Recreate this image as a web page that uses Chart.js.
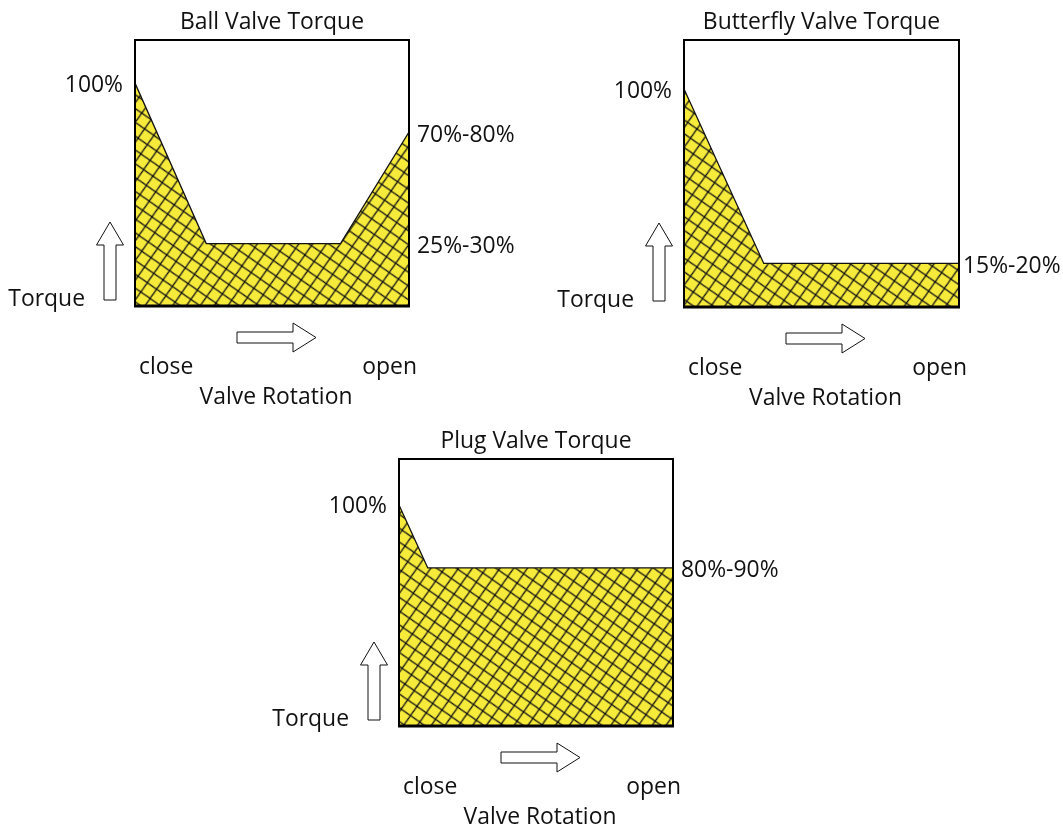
<!DOCTYPE html>
<html>
<head>
<meta charset="utf-8">
<script src="https://cdn.jsdelivr.net/npm/chart.js@4/dist/chart.umd.min.js"></script>
<style>
  html, body { margin: 0; padding: 0; background: #ffffff; }
  #wrap { position: relative; width: 1063px; height: 824px; overflow: hidden; }
  canvas { position: absolute; left: 0; top: 0; }
</style>
</head>
<body>
<div id="wrap">
  <canvas id="c1" width="1063" height="824"></canvas>
  <canvas id="c2" width="1063" height="824"></canvas>
  <canvas id="c3" width="1063" height="824"></canvas>
</div>
<script>
// ---- data ----
const titles = ['Ball Valve Torque', 'Butterfly Valve Torque', 'Plug Valve Torque'];
const ballX = [0, 26, 75, 100];
const ballY = [100, 28, 28, 78];
const butterflyX = [0, 29, 100];
const butterflyY = [100, 20, 20];
const plugX = [0, 10.5, 100];
const plugY = [100, 71.5, 71.5];
const ballRightLabels = [{ text: '70%-80%', index: 3 }, { text: '25%-30%', index: 2 }];
const butterflyRightLabels = [{ text: '15%-20%', index: 2 }];
const plugRightLabels = [{ text: '80%-90%', index: 2 }];
const startLabel = '100%';
const yAxisLabel = 'Torque';
const xStartLabel = 'close';
const xEndLabel = 'open';
const xAxisLabel = 'Valve Rotation';

// ---- styling ----
const FAMILY = '"Open Sans", Lato, sans-serif';
let FONT = '20px ' + FAMILY;
(function fitFont() {
  const c = document.createElement('canvas').getContext('2d');
  c.font = '20px ' + FAMILY;
  const w = c.measureText(xAxisLabel).width;
  let size = 20 * 153 / (w || 153);
  size = Math.max(17, Math.min(24, size));
  FONT = size.toFixed(1) + 'px ' + FAMILY;
})();
const TEXT = '#111111';

function makePattern() {
  const s = 16;
  const t = document.createElement('canvas');
  t.width = s; t.height = s;
  const g = t.getContext('2d');
  g.fillStyle = '#F6EA3A';
  g.fillRect(0, 0, s, s);
  g.strokeStyle = '#141414';
  g.lineWidth = 1.25;
  g.beginPath();
  g.moveTo(-2, -2); g.lineTo(s + 2, s + 2);
  g.moveTo(s + 2, -2); g.lineTo(-2, s + 2);
  g.stroke();
  const p = g.createPattern(t, 'repeat');
  try { p.setTransform(new DOMMatrix().rotateSelf(-10)); } catch (e) {}
  return p;
}

function arrowPoly(ctx, pts) {
  ctx.beginPath();
  ctx.moveTo(pts[0][0], pts[0][1]);
  for (let i = 1; i < pts.length; i++) ctx.lineTo(pts[i][0], pts[i][1]);
  ctx.closePath();
  ctx.fillStyle = '#ffffff';
  ctx.fill();
  ctx.strokeStyle = '#111111';
  ctx.lineWidth = 1;
  ctx.stroke();
}

const decor = {
  id: 'decor',
  afterDraw(chart, args, opts) {
    const ctx = chart.ctx;
    const a = chart.chartArea;
    const ys = chart.scales.y;
    const data = chart.data.datasets[0].data;
    ctx.save();
    // box
    ctx.strokeStyle = '#000';
    ctx.lineWidth = 2;
    ctx.strokeRect(a.left, a.top, a.right - a.left, a.bottom - a.top);
    ctx.lineWidth = 3;
    ctx.beginPath(); ctx.moveTo(a.left - 1, a.bottom); ctx.lineTo(a.right + 1, a.bottom); ctx.stroke();

    ctx.font = FONT;
    ctx.fillStyle = TEXT;
    ctx.textBaseline = 'middle';
    const cx = (a.left + a.right) / 2;
    // title
    ctx.textAlign = 'center';
    ctx.fillText(opts.title, cx, a.top - 18);
    // 100%
    ctx.textAlign = 'right';
    ctx.fillText(startLabel, a.left - 12, ys.getPixelForValue(data[0].y) + 2);
    // right labels
    ctx.textAlign = 'left';
    opts.rightLabels.forEach(r => {
      ctx.fillText(r.text, a.right + opts.rightGap, ys.getPixelForValue(data[r.index].y) + 3);
    });
    // Torque
    ctx.textAlign = 'right';
    ctx.fillText(yAxisLabel, a.left - 50, a.bottom - 7);
    // close / open
    ctx.textAlign = 'left';
    ctx.fillText(xStartLabel, a.left + 4, a.bottom + 61);
    ctx.textAlign = 'right';
    ctx.fillText(xEndLabel, a.right + 8, a.bottom + 61);
    // Valve Rotation
    ctx.textAlign = 'center';
    ctx.fillText(xAxisLabel, cx + 4, a.bottom + 91);

    // up arrow
    const ux = a.left - 25;
    const ub = a.bottom - 6;
    arrowPoly(ctx, [
      [ux - 6, ub], [ux + 6, ub], [ux + 6, ub - 55], [ux + 13.5, ub - 55],
      [ux, ub - 78], [ux - 13.5, ub - 55], [ux - 6, ub - 55]
    ]);
    // right arrow
    const rl = a.left + 102;
    const ry = a.bottom + 31.5;
    arrowPoly(ctx, [
      [rl, ry - 5.5], [rl + 56, ry - 5.5], [rl + 56, ry - 14.5], [rl + 79, ry],
      [rl + 56, ry + 14.5], [rl + 56, ry + 5.5], [rl, ry + 5.5]
    ]);
    ctx.restore();
  }
};

function build(id, xsArr, ysArr, yMax, box, title, rightLabels, rightGap) {
  const pattern = makePattern();
  return new Chart(document.getElementById(id), {
    type: 'line',
    data: {
      datasets: [{
        data: xsArr.map((x, i) => ({ x: x, y: ysArr[i] })),
        fill: 'origin',
        backgroundColor: pattern,
        borderColor: '#111111',
        borderWidth: 1.3,
        pointRadius: 0,
        tension: 0
      }]
    },
    options: {
      responsive: false,
      animation: false,
      events: [],
      layout: { padding: { left: box[0], top: box[1], right: 1063 - box[2], bottom: 824 - box[3] } },
      plugins: {
        legend: { display: false },
        tooltip: { enabled: false },
        decor: { title: title, rightLabels: rightLabels, rightGap: rightGap }
      },
      scales: {
        x: { type: 'linear', min: 0, max: 100, display: false },
        y: { min: 0, max: yMax, display: false }
      }
    },
    plugins: [decor]
  });
}

build('c1', ballX, ballY, 119.3, [135, 40, 409, 306], titles[0], ballRightLabels, 8);
build('c2', butterflyX, butterflyY, 122.5, [684, 40, 959, 307], titles[1], butterflyRightLabels, 4);
build('c3', plugX, plugY, 120.8, [399, 459, 673, 726], titles[2], plugRightLabels, 8);
</script>
</body>
</html>
